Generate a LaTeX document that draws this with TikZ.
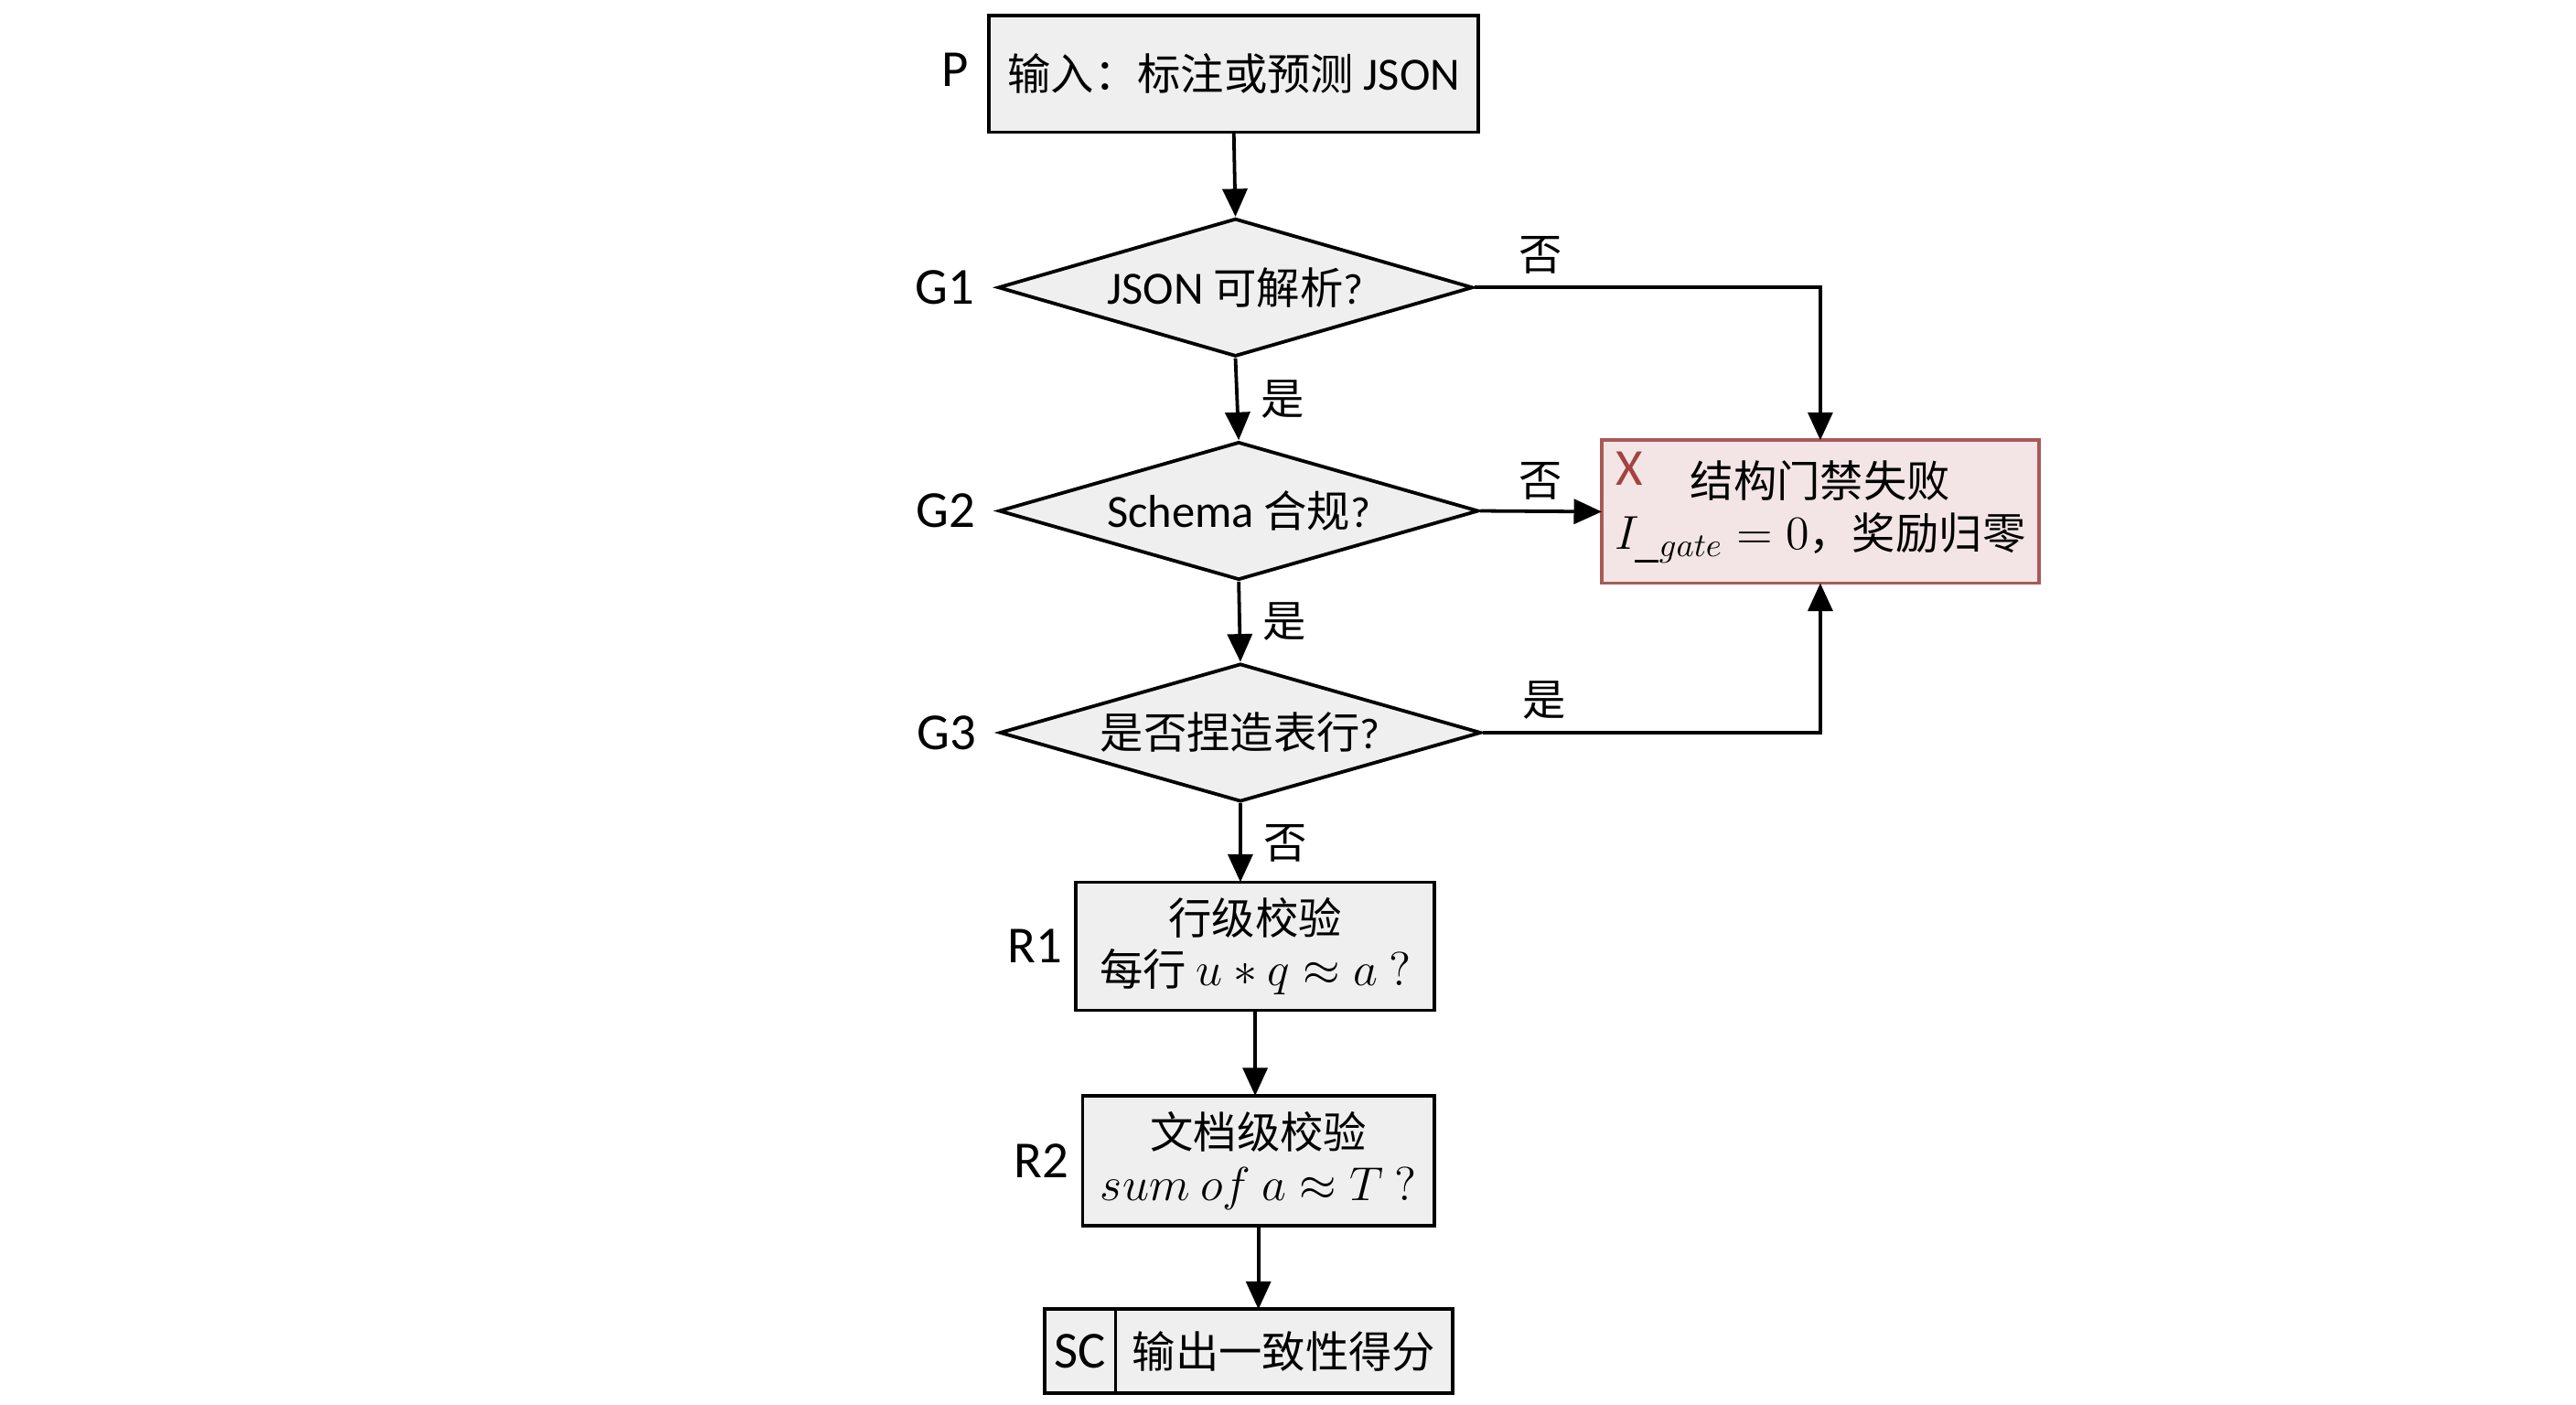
\documentclass[tikz,border=0pt]{standalone}
\usepackage{fix-cm}
\usepackage{fontspec}
\setmainfont{Carlito}
\newfontfamily\cjk{Noto Sans CJK SC}
\usetikzlibrary{arrows.meta,positioning,calc,shapes.geometric}
\newcommand{\zh}[1]{{\cjk #1}}
\newcommand{\gs}[1]{{\fontsize{16.5}{18}\selectfont$#1$}}
\definecolor{huidi}{HTML}{EFEFEF}
\definecolor{hongbian}{HTML}{A85A58}
\definecolor{hongdi}{HTML}{F3E5E5}
\definecolor{hongzi}{HTML}{A3433F}
\tikzset{
  kuang/.style={draw,line width=1.2pt,fill=huidi,inner sep=3pt,outer sep=0pt,align=center},
  ling/.style={diamond,draw,line width=1.2pt,fill=huidi,inner sep=0pt,aspect=3.4,align=center},
  jian/.style={line width=1.2pt,-{Triangle[length=3.4mm,width=3mm]}},
  biao/.style={inner sep=0pt,font=\fontsize{18}{21}\selectfont},
  fou/.style={font=\fontsize{15}{18}\selectfont},
}

\begin{document}
\begin{tikzpicture}[font=\fontsize{15}{18}\selectfont]
  \useasboundingbox (0,0) rectangle (31.36,-17.1);
  \node[kuang,minimum width=5.96cm,minimum height=1.42cm] (P) at (15.02,-0.90)
    {\zh{输入：标注或预测} {\fontsize{16}{18}\selectfont JSON}};
  \node[ling,minimum width=5.78cm,minimum height=1.68cm] (G1) at (15.04,-3.50)
    {{\fontsize{16}{18}\selectfont JSON} \zh{可解析}?};
  \node[ling,minimum width=5.84cm,minimum height=1.68cm] (G2) at (15.08,-6.22)
    {{\fontsize{16}{18}\selectfont Schema} \zh{合规}?};
  \node[ling,minimum width=5.86cm,minimum height=1.68cm] (G3) at (15.10,-8.92)
    {\zh{是否捏造表行}?};
  \node[kuang,draw=hongbian,fill=hongdi,minimum width=5.32cm,minimum height=1.74cm] (X) at (22.16,-6.23)
    {\zh{结构门禁失败}\\\gs{I_{\_gate}=0}\zh{，奖励归零}};
  \node[anchor=north west,inner sep=0pt,text=hongzi,biao] (Xbiao) at ($(X.north west)+(0.16,-0.14)$) {X};
  \node[kuang,minimum width=4.36cm,minimum height=1.56cm] (R1) at (15.28,-11.52)
    {\zh{行级校验}\\\zh{每行} \gs{u*q\approx a\ ?}};
  \node[kuang,minimum width=4.28cm,minimum height=1.58cm] (R2) at (15.32,-14.13)
    {\zh{文档级校验}\\\gs{sum\ of\ a\approx T\ ?}};
  \node[kuang,minimum width=0.86cm,minimum height=1.02cm,font=\fontsize{18}{21}\selectfont] (SCbiao) at (13.15,-16.45) {SC};
  \node[kuang,right=0pt of SCbiao,minimum width=4.1cm,minimum height=1.02cm] (SC)
    {\zh{输出一致性得分}};

  \node[biao,left=0.24cm of P.west,yshift=0.05cm] (Pb) {P};
  \node[biao,left=0.26cm of G1.west] (G1b) {G1};
  \node[biao,left=0.26cm of G2.west] (G2b) {G2};
  \node[biao,left=0.26cm of G3.west] (G3b) {G3};
  \node[biao,left=0.16cm of R1.west] (R1b) {R1};
  \node[biao,left=0.16cm of R2.west] (R2b) {R2};

  \draw[jian] (P.south) -- (G1.north);
  \draw[jian] (G1.south) -- node[fou,right=1.5mm] (shi1) {\zh{是}} (G2.north);
  \draw[jian] (G2.south) -- node[fou,right=1.5mm] (shi2) {\zh{是}} (G3.north);
  \draw[jian] (G3.south) -- node[fou,right=1.5mm] (fou3) {\zh{否}} (G3.south |- R1.north);
  \draw[jian] (G1.east) -| (X.north);
  \draw[jian] (G2.east) -- node[fou,above] (fou2) {\zh{否}} (X.west);
  \draw[jian] (G3.east) -| (X.south);
  \draw[jian] (R1.south) -- (R1.south |- R2.north);
  \draw[jian] (R2.south) -- (R2.south |- SC.north);
  \node[fou,anchor=south west] (fou1) at ($(G1.east)+(0.42,0.04)$) {\zh{否}};
  \node[fou,anchor=south west] (shi3) at ($(G3.east)+(0.36,0.04)$) {\zh{是}};
\end{tikzpicture}
\end{document}
